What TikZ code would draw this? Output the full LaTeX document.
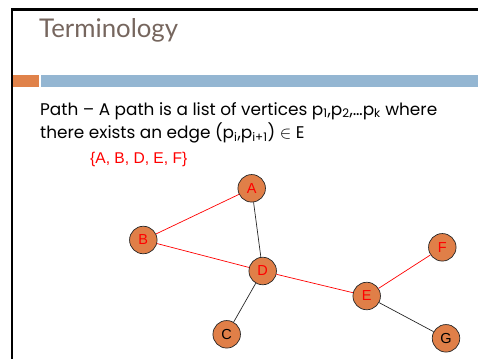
\documentclass[tikz,border=0pt]{standalone}
\usepackage{fontspec}
\setmainfont{Poppins}
\newfontfamily\titlefont{Lato}
\newfontfamily\arialfont{Liberation Sans}
\definecolor{titlegray}{HTML}{76665E}
\definecolor{barorange}{HTML}{E0824A}
\definecolor{barblue}{HTML}{94B6D2}
\definecolor{nodeorange}{HTML}{E07F48}
\tikzset{
  vtx/.style={circle, draw=black!85, line width=0.7pt, fill=nodeorange, minimum size=27.5pt, inner sep=0pt, font=\arialfont\fontsize{14.5}{14.5}\selectfont},
  redlab/.style={text=red},
  pathedge/.style={draw=red, line width=0.7pt},
  plainedge/.style={draw=black!85, line width=0.7pt}
}
\begin{document}
\begin{tikzpicture}[x=1pt,y=-1pt]
\useasboundingbox (0,0) rectangle (478,359);
% frame lines
\fill[black] (11,8.3) rectangle (478,10.8);
\fill[black] (11,8.3) rectangle (13.4,359);
% bars
\fill[barorange] (13.4,75) rectangle (39,86.5);
\fill[barblue] (41,75) rectangle (478,86.5);
% title
\node[anchor=base west, inner sep=0pt, text=titlegray, font=\titlefont\fontsize{25.8}{25.8}\selectfont] (title) at (39,37) {Terminology};
% body
\node[anchor=base west, inner sep=0pt, font=\fontsize{16.9}{16.9}\selectfont] (l1) at (40,115) {Path -- A path is a list of vertices p\textsubscript{1},p\textsubscript{2},\dots p\textsubscript{k} where};
\node[anchor=base west, inner sep=0pt, font=\fontsize{16.9}{16.9}\selectfont] (l2) at (40,138) {there exists an edge (p\textsubscript{i},p\textsubscript{i+1}) $\in$ E};
\node[anchor=base west, inner sep=0pt, text=red, font=\arialfont\fontsize{15.6}{15.6}\selectfont] (set) at (90,163) {\{A, B, D, E, F\}};
% vertices
\node[vtx, redlab] (A) at (251.7,188.3) {A};
\node[vtx, redlab] (B) at (143.3,240) {B};
\node[vtx, redlab] (D) at (262.7,271) {D};
\node[vtx] (C) at (226.7,334.3) {C};
\node[vtx, redlab] (E) at (366.7,296) {E};
\node[vtx, redlab] (F) at (442.3,247.3) {F};
\node[vtx] (G) at (446,338.3) {G};
% edges
\draw[pathedge] (A) -- (B);
\draw[pathedge] (B) -- (D);
\draw[pathedge] (D) -- (E);
\draw[pathedge] (E) -- (F);
\draw[plainedge] (A) -- (D);
\draw[plainedge] (D) -- (C);
\draw[plainedge] (E) -- (G);
\end{tikzpicture}
\end{document}
